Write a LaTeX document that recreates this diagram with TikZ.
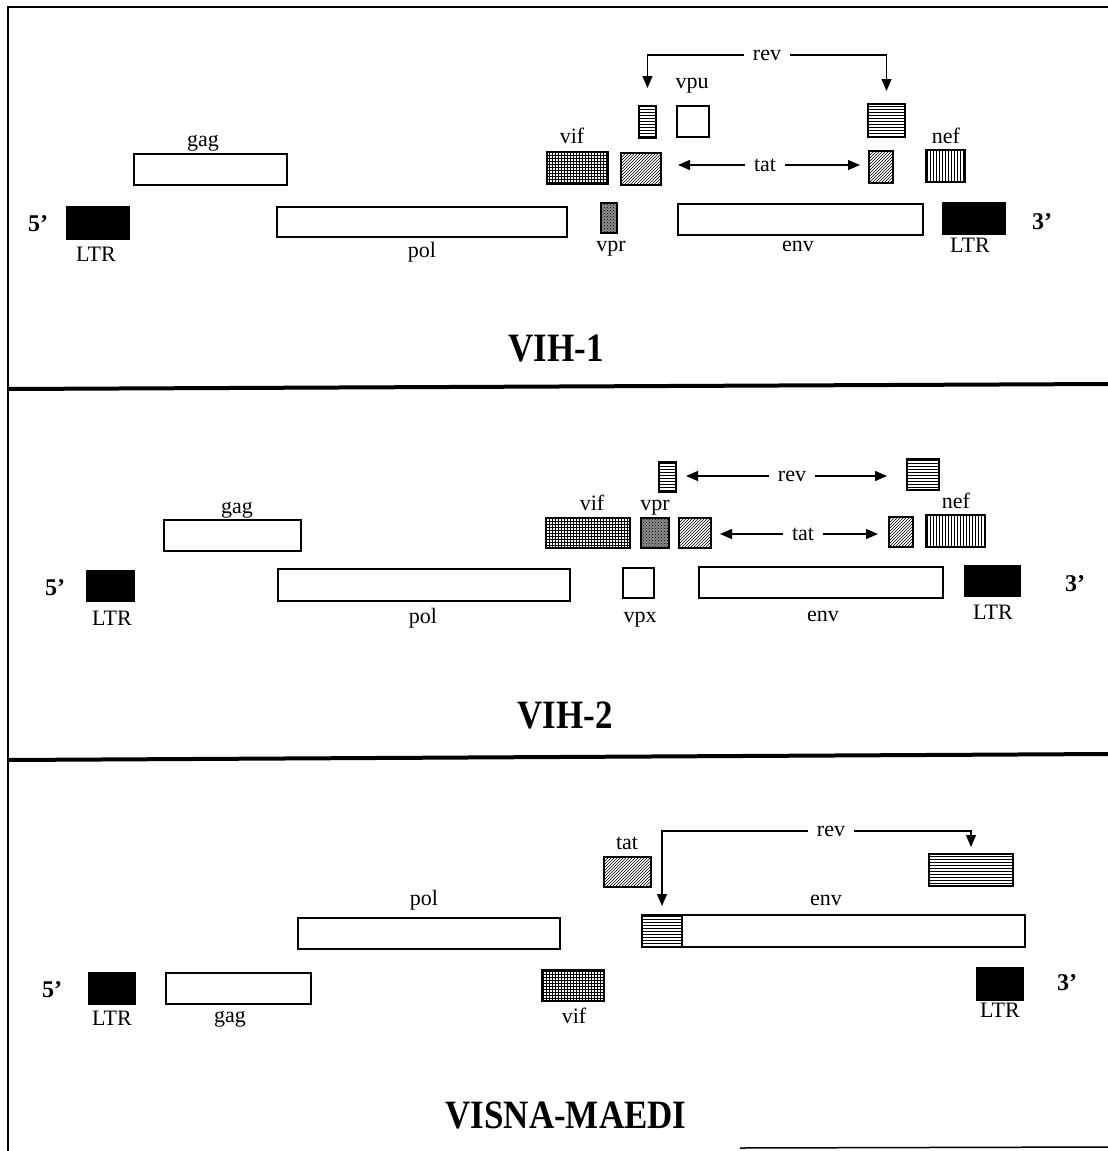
\documentclass[tikz,border=0pt]{standalone}
\usepackage{fontspec}
\setmainfont{Liberation Serif}
\usetikzlibrary{patterns,arrows.meta}

\tikzset{
  gene/.style={draw=black, line width=1.5pt, rectangle, inner sep=0pt, outer sep=0pt},
  plainbox/.style={gene, fill=white},
  ltrbox/.style={gene, fill=black},
  vifbox/.style={gene, pattern=grid},
  tatbox/.style={gene, pattern=north east lines},
  revbox/.style={gene, pattern=horizontal lines},
  nefbox/.style={gene, pattern=vertical lines},
  vprbox/.style={gene, preaction={fill=black!45}, pattern=crosshatch dots},
  lbl/.style={font=\fontsize{22}{24}\selectfont, inner sep=0pt, anchor=base},
  clbl/.style={font=\fontsize{22}{24}\selectfont, inner xsep=9pt, inner ysep=0pt},
  prime/.style={font=\bfseries\fontsize{24}{26}\selectfont, inner sep=0pt},
  titlelbl/.style={font=\bfseries\fontsize{35}{40}\selectfont, inner sep=0pt, yscale=1.15},
  conn/.style={line width=1.2pt},
  tip/.style={-{Triangle[length=12pt,width=10pt]}},
  frameline/.style={line width=1.5pt},
  sepline/.style={line width=4pt},
}

% \genebox{name}{style}{x1}{y1}{x2}{y2}
\newcommand{\genebox}[6]{%
  \node[#2, minimum width={(#5-#3)*1pt}, minimum height={(#6-#4)*1pt}]
    (#1) at ({(#3+#5)/2},{(#4+#6)/2}) {};}

\begin{document}
\begin{tikzpicture}[x=1pt,y=-1pt]
\useasboundingbox (0,0) rectangle (1108,1151);

% ---------- frame ----------
\draw[frameline] (8,1151) -- (8,7) -- (1108,7);
\draw[sepline] (8,389) -- (1108,384);
\draw[sepline] (8,760) -- (1108,754);
\draw[frameline] (740,1148) -- (1108,1147);

% ================= VIH-1 =================
\node[prime] (p5a) at (38,224) {5’};
\genebox{ltr1a}{ltrbox}{67}{207}{129}{239}
\node[lbl] (ltr1al) at (96,261) {LTR};
\genebox{gag1}{plainbox}{134}{154}{287}{185}
\node[lbl] (gag1l) at (203,146) {gag};
\genebox{pol1}{plainbox}{277}{207}{567}{237}
\node[lbl] (pol1l) at (422,257) {pol};
\genebox{vif1}{vifbox}{547}{152}{608}{184}
\node[lbl] (vif1l) at (572,143) {vif};
\genebox{vpr1}{vprbox}{601}{203}{617}{233}
\node[lbl] (vpr1l) at (611,251) {vpr};
\genebox{tat1a}{tatbox}{621}{153}{661}{185}
\genebox{rev1a}{revbox}{639}{106}{656}{138}
\genebox{vpu1}{plainbox}{677}{106}{709}{137}
\node[lbl] (vpu1l) at (692,88) {vpu};
\genebox{env1}{plainbox}{678}{204}{923}{235}
\node[lbl] (env1l) at (798,251) {env};
\genebox{rev1b}{revbox}{868}{104}{905}{137}
\genebox{tat1b}{tatbox}{869}{151}{893}{183}
\genebox{nef1}{nefbox}{926}{150}{965}{182}
\node[lbl] (nef1l) at (946,143) {nef};
\genebox{ltr1b}{ltrbox}{943}{203}{1005}{234}
\node[lbl] (ltr1bl) at (970,252) {LTR};
\node[prime] (p3a) at (1042,222) {3’};

\node[clbl] (rev1l) at (767,55) {rev};
\draw[conn,tip,shorten >=18pt] (rev1l.west) -| (rev1a.north);
\draw[conn,tip,shorten >=13pt] (rev1l.east) -| (rev1b.north);
\node[clbl] (tat1l) at (765,165) {tat};
\draw[conn,tip,shorten >=17pt] (tat1l.west) -- (tat1l.west -| tat1a.east);
\draw[conn,tip,shorten >=9pt] (tat1l.east) -- (tat1l.east -| tat1b.west);

\node[titlelbl] (t1) at (556,349) {VIH-1};

% ================= VIH-2 =================
\node[prime] (p5b) at (55,588) {5’};
\genebox{ltr2a}{ltrbox}{87}{571}{134}{601}
\node[lbl] (ltr2al) at (112,625) {LTR};
\genebox{gag2}{plainbox}{164}{520}{301}{551}
\node[lbl] (gag2l) at (237,513) {gag};
\genebox{pol2}{plainbox}{278}{569}{570}{601}
\node[lbl] (pol2l) at (423,623) {pol};
\genebox{vif2}{vifbox}{546}{518}{630}{548}
\node[lbl] (vif2l) at (592,510) {vif};
\genebox{vpr2}{vprbox}{641}{518}{669}{548}
\node[lbl] (vpr2l) at (655,510) {vpr};
\genebox{tat2a}{tatbox}{679}{518}{711}{548}
\genebox{rev2a}{revbox}{659}{462}{676}{492}
\genebox{vpx2}{plainbox}{623}{568}{654}{598}
\node[lbl] (vpx2l) at (640,622) {vpx};
\genebox{env2}{plainbox}{699}{567}{943}{598}
\node[lbl] (env2l) at (823,621) {env};
\genebox{rev2b}{revbox}{907}{459}{939}{490}
\genebox{tat2b}{tatbox}{889}{517}{913}{547}
\genebox{nef2}{nefbox}{926}{515}{985}{547}
\node[lbl] (nef2l) at (956,508) {nef};
\genebox{ltr2b}{ltrbox}{965}{566}{1020}{596}
\node[lbl] (ltr2bl) at (993,619) {LTR};
\node[prime] (p3b) at (1075,584) {3’};

\node[clbl] (rev2l) at (792,476) {rev};
\draw[conn,tip,shorten >=10pt] (rev2l.west) -- (rev2l.west -| rev2a.east);
\draw[conn,tip,shorten >=20pt] (rev2l.east) -- (rev2l.east -| rev2b.west);
\node[clbl] (tat2l) at (803,534) {tat};
\draw[conn,tip,shorten >=9pt] (tat2l.west) -- (tat2l.west -| tat2a.east);
\draw[conn,tip,shorten >=11pt] (tat2l.east) -- (tat2l.east -| tat2b.west);

\node[titlelbl] (t2) at (565,715) {VIH-2};

% ================= VISNA-MAEDI =================
\node[prime] (p5c) at (52,990) {5’};
\genebox{ltr3a}{ltrbox}{89}{973}{135}{1004}
\node[lbl] (ltr3al) at (112,1025) {LTR};
\genebox{gag3}{plainbox}{166}{973}{311}{1004}
\node[lbl] (gag3l) at (230,1022) {gag};
\genebox{pol3}{plainbox}{298}{918}{560}{949}
\node[lbl] (pol3l) at (424,905) {pol};
\genebox{vif3}{vifbox}{542}{970}{604}{1001}
\node[lbl] (vif3l) at (574,1023) {vif};
\genebox{tat3}{tatbox}{604}{857}{651}{887}
\node[lbl] (tat3l) at (627,849) {tat};
\genebox{env3}{plainbox}{642}{915}{1025}{947}
\genebox{rev3a}{revbox}{642}{915}{682}{947}
\node[lbl] (env3l) at (826,905) {env};
\genebox{rev3b}{revbox}{929}{854}{1013}{886}
\genebox{ltr3b}{ltrbox}{977}{968}{1023}{1000}
\node[lbl] (ltr3bl) at (1000,1017) {LTR};
\node[prime] (p3c) at (1067,983) {3’};

\node[clbl] (rev3l) at (831,831) {rev};
\draw[conn,tip,shorten >=9pt] (rev3l.west) -| (rev3a.north);
\draw[conn,tip,shorten >=7pt] (rev3l.east) -| (rev3b.north);

\node[titlelbl] (t3) at (566,1115) {VISNA-MAEDI};

\end{tikzpicture}
\end{document}
